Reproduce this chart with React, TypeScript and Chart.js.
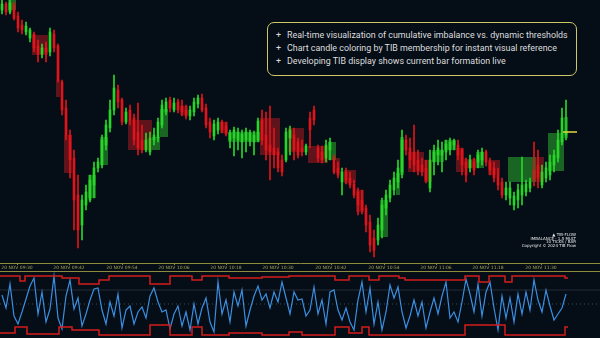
import React, { useEffect, useRef } from 'react';
import { Chart, registerables } from 'chart.js';
Chart.register(...registerables);

const BG = '#050d17';
const AXIS_COLOR = '#8f8b3c';
const UP = '#27d627';
const DOWN = '#e0141a';

const candleOpen = [
  990, 996, 988, 995, 984, 975, 968, 962, 966, 954,
  946, 952, 948, 966, 954, 918, 892, 865, 842, 805,
  775, 795, 800, 815, 832, 835, 855, 872, 890, 910,
  900, 878, 890, 882, 868, 860, 850, 848, 860, 862,
  875, 888, 900, 890, 898, 894, 890, 884, 888, 896,
  902, 892, 878, 864, 870, 878, 874, 860, 862, 860,
  858, 860, 859, 858, 860, 880, 865, 855, 852, 848,
  840, 840, 862, 865, 858, 852, 848, 882, 890, 852,
  848, 842, 850, 842, 832, 818, 828, 822, 816, 808,
  800, 792, 778, 762, 760, 770, 792, 802, 810, 818,
  828, 860, 852, 848, 840, 835, 832, 812, 838, 845,
  845, 848, 850, 855, 855, 850, 838, 832, 838, 838,
  840, 848, 838, 832, 825, 818, 805, 802, 795, 800,
  805, 808, 812, 830, 835, 815, 822, 825, 835, 842,
  858, 865,
];
const candleHigh = [
  1000, 998, 1000, 998, 988, 980, 978, 972, 968, 960,
  956, 958, 972, 970, 956, 920, 900, 870, 850, 825,
  805, 815, 825, 838, 842, 865, 880, 900, 925, 915,
  902, 892, 895, 886, 897, 875, 867, 868, 872, 882,
  900, 902, 903, 902, 901, 900, 895, 894, 902, 905,
  906, 896, 882, 880, 882, 880, 878, 870, 873, 872,
  870, 872, 870, 869, 882, 890, 888, 894, 872, 852,
  845, 872, 874, 872, 862, 860, 856, 888, 894, 855,
  854, 860, 862, 845, 838, 832, 832, 828, 820, 812,
  810, 795, 785, 770, 782, 802, 810, 820, 828, 840,
  870, 865, 862, 875, 850, 842, 840, 850, 855, 860,
  858, 860, 862, 861, 860, 852, 842, 845, 842, 850,
  852, 850, 842, 838, 832, 822, 818, 818, 808, 816,
  843, 820, 822, 858, 850, 835, 838, 845, 850, 870,
  892, 900,
];
const candleLow = [
  986, 985, 986, 980, 968, 966, 965, 958, 948, 938,
  942, 938, 944, 948, 918, 885, 860, 822, 770, 752,
  760, 790, 798, 802, 828, 832, 850, 868, 885, 892,
  875, 876, 875, 855, 845, 847, 848, 845, 855, 858,
  872, 885, 888, 888, 887, 884, 881, 880, 884, 892,
  888, 872, 862, 860, 866, 867, 864, 852, 844, 850,
  842, 848, 854, 845, 858, 855, 840, 820, 832, 828,
  824, 838, 845, 840, 842, 844, 845, 852, 875, 838,
  837, 838, 840, 826, 822, 805, 816, 812, 802, 785,
  786, 768, 748, 743, 755, 762, 785, 798, 805, 812,
  822, 845, 832, 828, 825, 824, 817, 808, 825, 835,
  828, 840, 845, 850, 840, 825, 818, 828, 825, 832,
  835, 834, 825, 818, 810, 802, 800, 795, 790, 792,
  795, 804, 808, 814, 812, 812, 818, 820, 828, 838,
  855, 860,
];
const candleClose = [
  996, 988, 997, 982, 972, 970, 974, 970, 952, 946,
  952, 948, 968, 952, 920, 890, 865, 840, 800, 770,
  800, 808, 820, 832, 838, 860, 875, 890, 912, 898,
  878, 888, 880, 860, 852, 850, 860, 862, 865, 878,
  895, 898, 892, 897, 890, 888, 884, 890, 898, 902,
  890, 875, 868, 876, 878, 870, 866, 867, 870, 868,
  866, 868, 867, 865, 879, 860, 850, 848, 845, 832,
  828, 868, 870, 850, 845, 848, 854, 870, 880, 842,
  840, 855, 858, 828, 825, 828, 820, 815, 805, 795,
  790, 775, 755, 750, 775, 795, 805, 815, 822, 832,
  860, 850, 840, 835, 830, 828, 820, 840, 848, 852,
  850, 856, 858, 859, 845, 835, 825, 840, 830, 845,
  848, 838, 830, 822, 815, 805, 812, 812, 804, 810,
  815, 816, 818, 820, 822, 828, 832, 838, 845, 860,
  882, 868,
];

// TIB boxes (candle index range, price range, direction)
const boxStart = [2, 8, 14, 16, 22, 25, 32, 38, 40, 45, 55, 57, 65, 72, 77, 82, 84, 86, 89, 95, 99, 100, 102, 106, 108, 111, 114, 116, 119, 122, 127, 134, 137, 141];
const boxEnd = [3, 11, 14, 17, 23, 26, 37, 39, 41, 46, 56, 64, 69, 75, 81, 83, 84, 88, 90, 96, 99, 100, 105, 107, 110, 113, 115, 118, 120, 124, 133, 135, 140, 141];
const boxHigh = [1000, 965, 920, 865, 825, 863, 880, 863, 891, 894, 878, 868, 882, 872, 854, 858, 842, 830, 810, 800, 827, 863, 848, 840, 850, 860, 852, 841, 848, 840, 843, 843, 867, 883];
const boxLow = [990, 945, 903, 827, 802, 835, 850, 850, 863, 885, 867, 858, 845, 848, 837, 840, 827, 817, 788, 763, 805, 825, 828, 818, 838, 850, 828, 832, 832, 825, 818, 818, 829, 862];
const boxBull = [1, 0, 0, 0, 1, 1, 0, 1, 1, 0, 0, 1, 0, 0, 0, 1, 0, 0, 0, 1, 1, 1, 0, 0, 1, 1, 0, 0, 1, 0, 1, 0, 1, 1];

// time axis
const timeTickIdx = [3.75, 16.75, 30, 43, 56, 69, 82.25, 95.5, 108.5, 121.5, 134.75];
const timeLabels = [
  '20 NOV 09:30', '20 NOV 09:42', '20 NOV 09:54', '20 NOV 10:06', '20 NOV 10:18', '20 NOV 10:30',
  '20 NOV 10:42', '20 NOV 10:54', '20 NOV 11:06', '20 NOV 11:18', '20 NOV 11:30',
];

// cumulative imbalance oscillator
const imbalance = [
  9, -4, 20, -12, -20, -8, 5, 18, 26, -10,
  12, -18, -5, 28, -14, -25, 8, 24, -5, 6,
  -22, -10, 4, 15, 16, -6, -20, 2, -12, 10,
  -24, -6, -2, -20, -8, -3, -14, 8, 16, 2,
  -8, -6, -25, -10, -2, -22, -8, -26, 0, -20,
  -4, 6, -18, -28, 22, -10, 4, -18, 12, -2,
  14, -22, -6, 8, 18, 4, 10, -4, 12, 2,
  22, 6, -10, 12, 4,
  5, -12, -6, 17, -10, 4, -20, 12, 14, -6,
  -16, -4, -18, -26, 4, 22, -8, 16, -20, 2,
  -26, -8, 19, 6, 17, -8, -24, -12, 4, -12,
  2, -24, -8, 6, -10, 8, 22, -14, -8, -18,
  2, 25, 10, -8, 20, -12, 12, 22, -4, -26,
  8, -14, 6, -18, 10, -10, 12, -6, 24, 4,
  -8, 14, -2, -16, -10, -4, 10,
];
const upperStepIdx = [-0.5, 4.5, 5.75, 15, 19.25, 24.25, 26.75, 37, 42, 47.5, 50, 56.75, 65, 71.75, 83.25, 86.75, 91.75, 94.25, 99.25, 100.75, 115.75, 119.25, 121.75, 125.75, 127.5, 140.75, 141.5];
const upperStepVal = [28, 23, 28, 26, 20, 24, 28, 20, 28, 24, 28, 26, 27, 28, 24, 28, 24, 28, 26, 24, 28, 22, 28, 22, 28, 26, 26];
const lowerStepIdx = [-0.5, 3.25, 6.25, 14.25, 17.5, 24.25, 37, 42, 47.5, 50, 56.75, 65, 71.75, 75, 83.25, 86.75, 90, 91.75, 115.75, 125.75, 140.75, 141.5];
const lowerStepVal = [-29, -23, -30, -23, -26, -31, -21, -31, -23, -31, -29, -31, -28, -31, -23, -29, -23, -31, -21, -31, -23, -23];
const referenceLevel = 14;

const noteLines = [
  'Real-time visualization of cumulative imbalance vs. dynamic thresholds',
  'Chart candle coloring by TIB membership for instant visual reference',
  'Developing TIB display shows current bar formation live',
];
const infoLines = ['▲ TIB-FLOW', 'IMBALANCE · 1.5 MULT', '10 TICKS / BAR', 'Copyright © 2024 TIB Flow'];

const X_MIN = -0.5;
const X_MAX = 149.5;

export default function App() {
  const mainRef = useRef<HTMLCanvasElement>(null);
  const oscRef = useRef<HTMLCanvasElement>(null);

  useEffect(() => {
    document.body.style.margin = '0';
    document.body.style.background = BG;
    Chart.defaults.font.family = 'Roboto';

    const idx = candleOpen.map((_, i) => i);
    const colors = idx.map((i) => (candleClose[i] >= candleOpen[i] ? UP : DOWN));
    const last = candleClose.length - 1;

    const boxPlugin = {
      id: 'tibBoxes',
      beforeDatasetsDraw(chart: any) {
        const { ctx, chartArea, scales } = chart;
        const x = scales.x;
        const y = scales.y;
        ctx.save();
        ctx.beginPath();
        ctx.rect(chartArea.left, chartArea.top, chartArea.right - chartArea.left, chartArea.bottom - chartArea.top);
        ctx.clip();
        for (let k = 0; k < boxStart.length; k++) {
          const x0 = x.getPixelForValue(boxStart[k] - 0.5);
          const x1 = x.getPixelForValue(boxEnd[k] + 0.5);
          const y0 = y.getPixelForValue(boxHigh[k]);
          const y1 = y.getPixelForValue(boxLow[k]);
          ctx.fillStyle = boxBull[k] ? 'rgba(50,190,50,0.5)' : 'rgba(185,25,30,0.5)';
          ctx.fillRect(x0, y0, x1 - x0, y1 - y0);
        }
        ctx.restore();
      },
    };

    const main = new Chart(mainRef.current as HTMLCanvasElement, {
      type: 'bar',
      data: {
        datasets: [
          {
            type: 'bar',
            data: idx.map((i) => ({ x: i, y: [candleLow[i], candleHigh[i]] })) as any,
            backgroundColor: colors,
            borderWidth: 0,
            barThickness: 1,
            grouped: false,
            order: 3,
          } as any,
          {
            type: 'bar',
            data: idx.map((i) => ({ x: i, y: [candleOpen[i], candleClose[i]] })) as any,
            backgroundColor: colors,
            borderWidth: 0,
            barThickness: 2,
            minBarLength: 1,
            grouped: false,
            order: 2,
          } as any,
          {
            type: 'line',
            data: [
              { x: last - 0.75, y: candleClose[last] },
              { x: last + 2.75, y: candleClose[last] },
            ],
            borderColor: '#e6d640',
            borderWidth: 1.5,
            pointRadius: 0,
            order: 1,
          } as any,
        ],
      },
      options: {
        animation: false,
        responsive: true,
        maintainAspectRatio: false,
        events: [],
        layout: { padding: 0 },
        plugins: { legend: { display: false }, tooltip: { enabled: false } },
        scales: {
          x: {
            type: 'linear',
            min: X_MIN,
            max: X_MAX,
            offset: false,
            border: { display: true, color: AXIS_COLOR, width: 1 },
            grid: { display: true, drawOnChartArea: false, drawTicks: true, tickLength: 2, color: AXIS_COLOR, offset: false },
            afterBuildTicks: (scale: any) => {
              scale.ticks = timeTickIdx.map((v) => ({ value: v }));
            },
            afterFit: (scale: any) => {
              scale.height = 8;
            },
            ticks: {
              autoSkip: false,
              maxRotation: 0,
              minRotation: 0,
              padding: 0,
              color: '#a8a255',
              font: { size: 4.5, family: 'DejaVu Sans' },
              callback: (_v: any, i: number) => timeLabels[i],
            },
          },
          y: { display: false, min: 737, max: 1000 },
        },
      } as any,
      plugins: [boxPlugin],
    });

    const osc = new Chart(oscRef.current as HTMLCanvasElement, {
      type: 'line',
      data: {
        datasets: [
          {
            data: [
              { x: X_MIN, y: referenceLevel },
              { x: X_MAX, y: referenceLevel },
            ],
            borderColor: 'rgba(110,125,145,0.28)',
            borderWidth: 1,
            pointRadius: 0,
          },
          {
            data: [
              { x: X_MIN, y: 0 },
              { x: X_MAX, y: 0 },
            ],
            borderColor: 'rgba(140,150,165,0.45)',
            borderWidth: 1,
            borderDash: [1, 3],
            pointRadius: 0,
          },
          {
            data: upperStepIdx.map((x, k) => ({ x, y: upperStepVal[k] })),
            borderColor: '#d41c1c',
            borderWidth: 1.5,
            stepped: true,
            pointRadius: 0,
          },
          {
            data: lowerStepIdx.map((x, k) => ({ x, y: lowerStepVal[k] })),
            borderColor: '#d41c1c',
            borderWidth: 1.5,
            stepped: true,
            pointRadius: 0,
          },
          {
            data: imbalance.map((v, i) => ({ x: i, y: v })),
            borderColor: '#3b8fe0',
            borderWidth: 1.2,
            pointRadius: 0,
            tension: 0,
          },
        ] as any,
      },
      options: {
        animation: false,
        responsive: true,
        maintainAspectRatio: false,
        events: [],
        layout: { padding: 0 },
        plugins: { legend: { display: false }, tooltip: { enabled: false } },
        scales: {
          x: { type: 'linear', display: false, min: X_MIN, max: X_MAX },
          y: { display: false, min: -34, max: 32 },
        },
      } as any,
    });

    return () => {
      main.destroy();
      osc.destroy();
    };
  }, []);

  return (
    <div style={{ position: 'fixed', left: 0, top: 0, width: 600, height: 338, background: BG, overflow: 'hidden' }}>
      <div style={{ position: 'absolute', left: 0, top: 0, width: 600, height: 271 }}>
        <canvas ref={mainRef} />
      </div>
      <div
        style={{
          position: 'absolute',
          left: 0,
          top: 271,
          width: 600,
          height: 67,
          borderTop: `1px solid ${AXIS_COLOR}`,
          boxSizing: 'border-box',
        }}
      >
        <canvas ref={oscRef} />
      </div>
      <div
        style={{
          position: 'absolute',
          left: 267,
          top: 22,
          width: 310,
          height: 54,
          boxSizing: 'border-box',
          border: '1px solid #cdc865',
          borderRadius: 7,
          background: BG,
          color: '#dedede',
          fontFamily: 'Roboto',
          fontSize: 8.9,
          lineHeight: '13px',
          paddingTop: 6,
          paddingLeft: 8,
          whiteSpace: 'nowrap',
        }}
      >
        {noteLines.map((t, i) => (
          <div key={i} style={{ display: 'flex' }}>
            <span style={{ width: 11, display: 'inline-block' }}>+</span>
            <span>{t}</span>
          </div>
        ))}
      </div>
      <div
        style={{
          position: 'absolute',
          right: 24,
          top: 233,
          textAlign: 'right',
          color: '#e8e8e8',
          fontFamily: 'DejaVu Sans',
          fontSize: 4,
          lineHeight: '3.7px',
          whiteSpace: 'nowrap',
        }}
      >
        {infoLines.map((t, i) => (
          <div key={i}>{t}</div>
        ))}
      </div>
    </div>
  );
}
